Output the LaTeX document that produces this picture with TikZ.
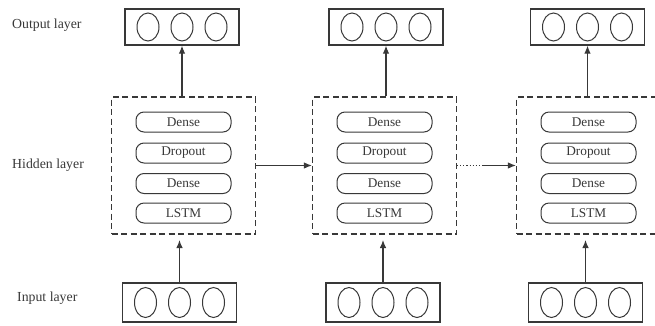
\documentclass[tikz,border=0pt]{standalone}
\usepackage{fontspec}
\setmainfont{Liberation Serif}
\usetikzlibrary{shapes.geometric,arrows.meta}
\definecolor{ink}{HTML}{383838}
\begin{document}
\begin{tikzpicture}[x=1pt,y=-1pt,
  font=\fontsize{13.8}{16}\selectfont, text=ink,
  lay/.style={draw=ink,line width=1.3pt,minimum width=114pt,minimum height=36pt,inner sep=0pt},
  unit/.style={draw=ink,ellipse,line width=1pt,minimum width=22pt,minimum height=28pt,inner sep=0pt},
  hid/.style={draw=ink,line width=1.2pt,dash pattern=on 6pt off 3.5pt,minimum width=144pt,minimum height=137pt,inner sep=0pt},
  op/.style={draw=ink,rounded corners=8pt,minimum width=95pt,minimum height=20pt,inner sep=0pt,line width=1pt,font=\fontsize{13.3}{15}\selectfont},
  arr/.style={draw=ink,line width=1.1pt,-{Latex[length=8pt,width=6.5pt]}},
  lbl/.style={anchor=west,inner sep=0pt}]
\useasboundingbox (0,0) rectangle (655,325);
\clip (0,0) rectangle (655,325);
\node[lbl] (lout) at (12,25) {Output layer};
\node[lbl] (lhid) at (12,165) {Hidden layer};
\node[lbl] (lin) at (17,298) {Input layer};
\foreach \i/\hx/\ox/\ix in {1/183.5/182/179.5, 2/384.5/386/383, 3/588.5/587.5/585.5}{
  \node[hid] (h\i) at (\hx,165.5) {};
  \node[op] (d\i) at (\hx,122) {Dense};
  \node[op] (p\i) at (\hx,153) {Dropout};
  \node[op] (e\i) at (\hx,183.5) {Dense};
  \node[op] (s\i) at (\hx,213) {LSTM};
  \node[lay] (out\i) at (\ox,27) {};
  \node[unit] (oa\i) at (\ox-34,27) {};
  \node[unit] (ob\i) at (\ox,27) {};
  \node[unit] (oc\i) at (\ox+34,27) {};
  \node[lay,minimum height=39pt] (in\i) at (\ix,302.5) {};
  \node[unit,minimum height=30pt] (ia\i) at (\ix-34,302.5) {};
  \node[unit,minimum height=30pt] (ib\i) at (\ix,302.5) {};
  \node[unit,minimum height=30pt] (ic\i) at (\ix+34,302.5) {};
  \coordinate (t\i) at (\ix,240);
  \draw[arr] (in\i.north) -- (t\i);
  \draw[arr] (out\i.south |- h\i.north) -- (out\i.south);
}
\draw[arr] (h1.east) -- (h2.west);
\coordinate (m) at (483,165.5);
\draw[draw=ink,line width=1.1pt,dotted] (h2.east) -- (m);
\draw[arr] (m) -- (h3.west);
\end{tikzpicture}
\end{document}
